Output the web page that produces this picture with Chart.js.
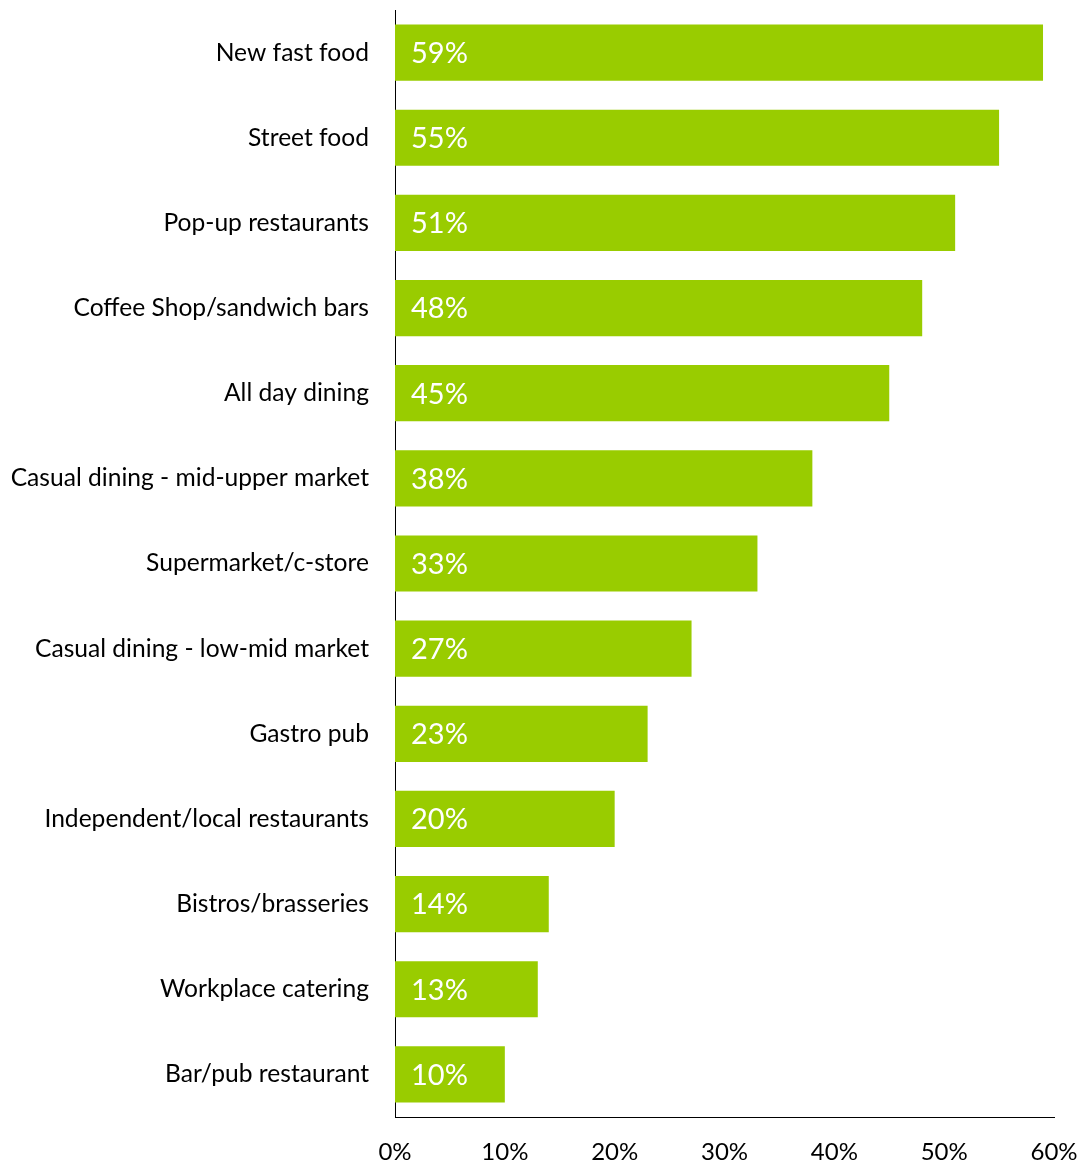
<!DOCTYPE html>
<html>
<head>
<meta charset="utf-8">
<script src="https://cdn.jsdelivr.net/npm/chart.js@4"></script>
<style>
  html, body { margin: 0; padding: 0; background: #fff; }
  #wrap { width: 1087px; height: 1162px; }
</style>
</head>
<body>
<div id="wrap"><canvas id="chart" width="1087" height="1162"></canvas></div>
<script>
const categories = [
  'New fast food',
  'Street food',
  'Pop-up restaurants',
  'Coffee Shop/sandwich bars',
  'All day dining',
  'Casual dining - mid-upper market',
  'Supermarket/c-store',
  'Casual dining - low-mid market',
  'Gastro pub',
  'Independent/local restaurants',
  'Bistros/brasseries',
  'Workplace catering',
  'Bar/pub restaurant'
];
const shares = [59, 55, 51, 48, 45, 38, 33, 27, 23, 20, 14, 13, 10];
const xTicks = [0, 10, 20, 30, 40, 50, 60];

const FONT = 'Lato, "Open Sans", sans-serif';
const GREEN = '#99cc00';

// white value labels inside the bars
const valueLabels = {
  id: 'valueLabels',
  afterDatasetsDraw(chart) {
    const ctx = chart.ctx;
    const meta = chart.getDatasetMeta(0);
    const x0 = chart.scales.x.getPixelForValue(0);
    ctx.save();
    ctx.fillStyle = '#ffffff';
    ctx.font = '29px ' + FONT;
    ctx.textAlign = 'left';
    ctx.textBaseline = 'middle';
    meta.data.forEach((bar, i) => {
      ctx.fillText(shares[i] + '%', x0 + 16, bar.y + 1);
    });
    ctx.restore();
  }
};

const ctx = document.getElementById('chart').getContext('2d');
new Chart(ctx, {
  type: 'bar',
  data: {
    labels: categories,
    datasets: [{
      data: shares,
      backgroundColor: GREEN,
      borderWidth: 0,
      categoryPercentage: 1,
      barPercentage: 0.66
    }]
  },
  options: {
    indexAxis: 'y',
    responsive: false,
    animation: false,
    layout: { padding: { top: 10, right: 33, bottom: 0, left: 0 } },
    plugins: { legend: { display: false }, tooltip: { enabled: false } },
    scales: {
      x: {
        min: 0,
        max: 60,
        afterBuildTicks(scale) { scale.ticks = xTicks.map(v => ({ value: v })); },
        afterFit(scale) {
          scale.height = 45;
          scale.paddingLeft = 0;
          scale.paddingRight = 0;
          scale.paddingBottom = 0;
        },
        grid: { display: false, drawTicks: false },
        border: { display: true, color: '#000000', width: 1 },
        ticks: {
          color: '#000000',
          font: { family: FONT, size: 24, lineHeight: 1 },
          padding: 23,
          maxRotation: 0,
          callback: v => v + '%'
        }
      },
      y: {
        afterFit(scale) {
          scale.width = 395;
          scale.paddingTop = 0;
          scale.paddingBottom = 0;
        },
        grid: { display: false, drawTicks: false },
        border: { display: true, color: '#000000', width: 1 },
        ticks: {
          color: '#000000',
          font: { family: FONT, size: 24.6 },
          padding: 26
        }
      }
    }
  },
  plugins: [valueLabels]
});
</script>
</body>
</html>
